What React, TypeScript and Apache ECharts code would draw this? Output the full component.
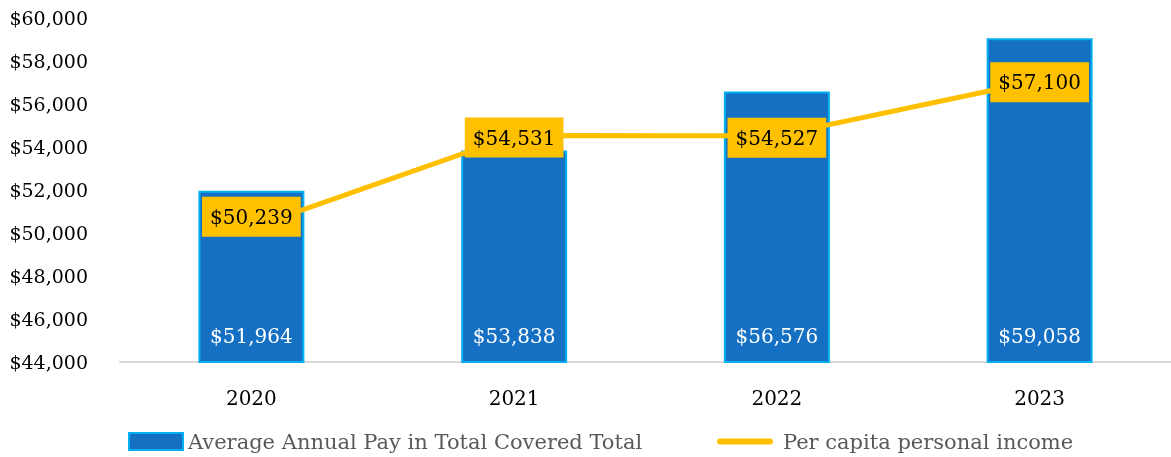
import React, { useEffect, useRef } from "react";
import * as echarts from "echarts";

const years = ["2020", "2021", "2022", "2023"];
const avgAnnualPay = [51964, 53838, 56576, 59058];
const perCapitaIncome = [50239, 54531, 54527, 57100];
const barName = "Average Annual Pay in Total Covered Total";
const lineName = "Per capita personal income";

const FONT = "DejaVu Serif";
const fmt = (v: number) => "$" + v.toLocaleString("en-US");

export default function App() {
  const ref = useRef<HTMLDivElement>(null);
  useEffect(() => {
    const chart = echarts.init(ref.current!, null, { renderer: "svg" });
    chart.setOption({
      animation: false,
      textStyle: { fontFamily: FONT },
      grid: { left: 120, top: 18, width: 1059, height: 344, containLabel: false },
      legend: [
        {
          left: 123,
          top: 426,
          itemWidth: 54,
          itemHeight: 17,
          textStyle: { fontFamily: FONT, fontSize: 21, color: "#595959" },
          data: [{ name: barName, icon: "rect" }],
        },
        {
          left: 712,
          top: 426,
          itemWidth: 56,
          itemHeight: 6,
          textStyle: { fontFamily: FONT, fontSize: 21, color: "#595959", padding: [0, 0, 0, 5] },
          data: [{ name: lineName, icon: "path://M3,0 H53 A3,3 0 0 1 53,6 H3 A3,3 0 0 1 3,0 Z" }],
        },
      ],
      xAxis: {
        type: "category",
        data: years,
        axisLine: { lineStyle: { color: "#D9D9D9", width: 2 } },
        axisTick: { show: false },
        axisLabel: { color: "#000", fontSize: 20, fontFamily: FONT, margin: 26 },
      },
      yAxis: {
        type: "value",
        min: 44000,
        max: 60000,
        interval: 2000,
        splitLine: { show: false },
        axisLine: { show: false },
        axisTick: { show: false },
        axisLabel: { color: "#000", fontSize: 19, fontFamily: FONT, margin: 32, formatter: (v: number) => fmt(v) },
      },
      series: [
        {
          name: barName,
          type: "bar",
          data: avgAnnualPay,
          barWidth: 106,
          itemStyle: { color: "#1570C4", borderColor: "#00B0F0", borderWidth: 2 },
          label: {
            show: true,
            position: "insideBottom",
            distance: 17,
            color: "#fff",
            fontSize: 20,
            fontFamily: FONT,
            formatter: (p: any) => fmt(p.value),
          },
        },
        {
          name: lineName,
          type: "line",
          data: perCapitaIncome.map((v, i) => ({
            value: v,
            label: { offset: i === 0 ? [0, -11] : [0, 2] },
          })),
          symbol: "circle",
          symbolSize: 1,
          showSymbol: true,
          lineStyle: { color: "#FFC000", width: 5 },
          itemStyle: { color: "#FFC000" },
          label: {
            show: true,
            position: "inside",
            color: "#000",
            fontSize: 20,
            fontFamily: FONT,
            backgroundColor: "#FFC000",
            padding: [10, 8],
            formatter: (p: any) => fmt(p.value),
          },
          z: 3,
        },
      ],
    });
    return () => chart.dispose();
  }, []);
  return <div ref={ref} style={{ position: "fixed", left: 0, top: 0, width: 1171, height: 457 }} />;
}
